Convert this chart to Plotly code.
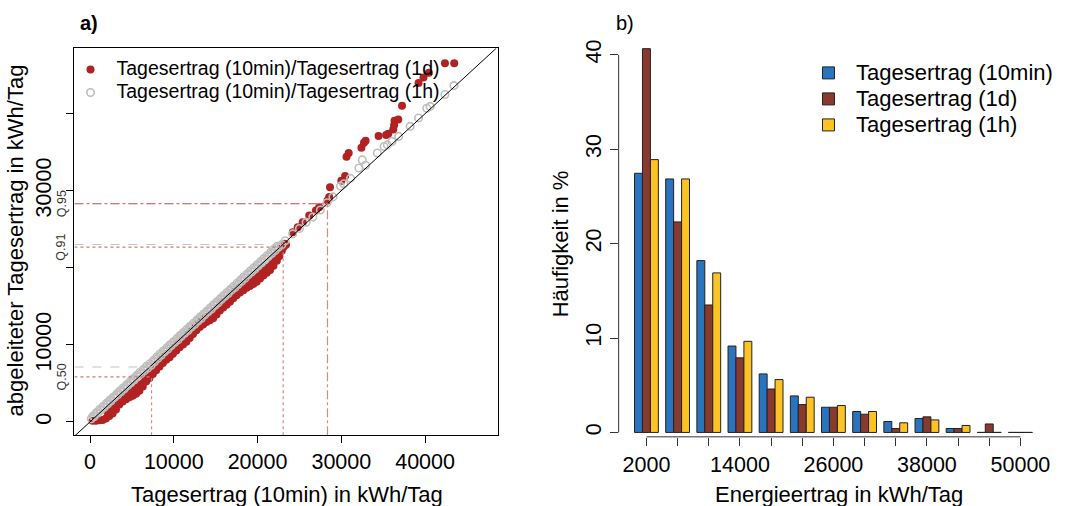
import plotly.graph_objects as go

W, H = 1072, 506
FONT = "Liberation Sans, Arial, sans-serif"

# ---------------- Panel a data (quantile pairs, kWh/Tag) ----------------
# Tagesertrag (10min) vs Tagesertrag (1d): lower edge of band, upper edge of band, sparse tail
red_x = [300, 700, 1100, 1500, 1900, 2300, 2700, 3100, 3500, 3900, 4300, 4700, 5100, 5500,
         5900, 6300, 6700, 7100, 7500, 7900, 8300, 8700, 9100, 9500, 9900, 10300, 10700,
         11100, 11500, 11900, 12300, 12700, 13100, 13500, 13900, 14300, 14700, 15100, 15500,
         15900, 16300, 16700, 17100, 17500, 17900, 18300, 18700, 19100, 19500, 19900, 20300,
         20700, 21100, 21500, 21900, 22300, 22600, 22900, 23100, 23400,
         2100, 2500, 2900, 3300, 3700, 4100, 4500, 4900, 5300, 5700, 6100, 6500, 6900, 7300,
         7700, 8100, 8500, 8900, 9300, 9700, 10100, 10500, 10900, 11300, 11700, 12100, 12500,
         12900, 13300, 13700, 14100, 14500, 14900, 15300, 15700, 16100, 16500, 16900, 17300,
         17700, 18100, 18500, 18900, 19300, 19700, 20100, 20500, 20900, 21300, 21700, 22100, 22500,
         22820, 23211, 24206, 24798, 25391, 26173, 26967, 27358, 28353, 28554, 28650,
         30000, 30450, 30620, 30880, 32400, 32700, 32900, 34450, 35350, 35600, 36200,
         36300, 36350, 36800, 37250, 39220, 39810, 40450, 42370, 43480]
red_y = [150, 150, 200, 250, 450, 750, 1100, 1600, 2250, 2650, 2950, 3200, 3400, 3650,
         4050, 4600, 5250, 5700, 6200, 6700, 7200, 7650, 8050, 8400, 8850, 9250, 9700,
         10050, 10400, 10900, 11400, 11900, 12300, 12650, 12950, 13200, 13450, 13950, 14450,
         14850, 15200, 15600, 16050, 16450, 16800, 17100, 17400, 17650, 17900, 18200, 18600,
         19000, 19350, 19700, 20250, 20900, 21500, 22200, 22700, 23000,
         1250, 1550, 2000, 2550, 3100, 3450, 3700, 3950, 4150, 4500, 4950, 5550, 6100, 6600,
         7100, 7600, 8050, 8500, 8850, 9250, 9700, 10100, 10500, 10850, 11300, 11800, 12300,
         12750, 13100, 13450, 13700, 13950, 14350, 14850, 15300, 15650, 16050, 16450, 16900,
         17250, 17600, 17900, 18150, 18450, 18700, 19050, 19450, 19800, 20150, 20600, 21200, 21900,
         22668, 23109, 24611, 25259, 25907, 26775, 27423, 27850, 28718, 29200, 30440,
         31300, 31900, 34400, 34900, 35580, 36230, 36500, 37100, 37250, 37400, 37950,
         38500, 39080, 39250, 41020, 44000, 44700, 45300, 46550, 46550]

# Tagesertrag (10min) vs Tagesertrag (1h)
grey_x = [150, 500, 900, 1300, 1700, 2100, 2500, 2900, 3300, 3700, 4100, 4500, 4900, 5300,
          5700, 6100, 6500, 6900, 7300, 7700, 8100, 8500, 8900, 9300, 9700, 10100, 10500,
          10900, 11300, 11700, 12100, 12500, 12900, 13300, 13700, 14100, 14500, 14900, 15300,
          15700, 16100, 16500, 16900, 17300, 17700, 18100, 18500, 18900, 19300, 19700, 20100,
          20500, 20900, 21300, 21700, 22100, 22500, 22900, 23300,
          350, 750, 1150, 1550, 1950, 2350, 2750, 3150, 3550, 3950, 4350, 4750, 5150, 5550,
          5950, 6350, 6750, 7150, 7550, 7950, 8350, 8750, 9150, 9550, 9950, 10350, 10750,
          11150, 11550, 11950, 12350, 12750, 13150, 13550, 13950, 14350, 14750, 15150, 15550,
          15950, 16350, 16750, 17150, 17550, 17950, 18350, 18750, 19150, 19550, 19950, 20350,
          20750, 21150, 21550, 21950, 22350,
          24200, 25000, 25800, 26600, 27500, 28300, 29000, 29900, 30300, 31100, 32100,
          32500, 32900, 34300, 35100, 35500, 36050, 36850, 38220, 39220, 40200, 40600,
          42370, 43450]
grey_y = [400, 700, 1100, 1500, 1900, 2300, 2700, 3150, 3500, 3900, 4300, 4700, 5100, 5500,
          5850, 6250, 6650, 7000, 7350, 7800, 8250, 8650, 9100, 9450, 9900, 10300, 10650,
          11100, 11500, 11850, 12300, 12650, 13100, 13450, 13900, 14300, 14650, 15100, 15450,
          15900, 16300, 16650, 17100, 17450, 17850, 18250, 18650, 19100, 19450, 19850, 20250,
          20650, 21050, 21450, 21850, 22250, 22650, 23000, 23500,
          750, 1200, 1600, 2000, 2400, 2800, 3200, 3600, 4000, 4400, 4800, 5200, 5600, 6000,
          6400, 6800, 7200, 7550, 7950, 8400, 8800, 9200, 9600, 10000, 10400, 10800, 11200,
          11600, 12000, 12400, 12800, 13200, 13600, 14000, 14400, 14800, 15200, 15600, 16000,
          16400, 16800, 17200, 17600, 18000, 18400, 18800, 19200, 19600, 20000, 20400, 20800,
          21200, 21600, 22000, 22400, 22800,
          24400, 25100, 25900, 26600, 27500, 28450, 29200, 30600, 30900, 31600, 32950,
          34000, 33300, 34900, 35750, 35950, 36400, 37050, 38350, 39450, 40700, 40950,
          42500, 43650]

q_labels = ["Q.50", "Q.91", "Q.95"]
q_x = [7346, 23060, 28350]
q_red_y = [5830, 22670, 28330]
q_grey_y = [7125, 23020, 28330]
q_red_dash = ["dot", "dot", "dashdot"]

# ---------------- Panel b data (histogram, %) ----------------
bins = [2000, 6000, 10000, 14000, 18000, 22000, 26000, 30000, 34000, 38000, 42000, 46000, 50000]
bin_labels = ["2000", "", "", "14000", "", "", "26000", "", "", "38000", "", "", "50000"]
h_10min = [27.45, 26.85, 18.2, 9.15, 6.2, 3.87, 2.67, 2.22, 1.16, 1.48, 0.42, 0, 0]
h_1d = [40.65, 22.3, 13.5, 7.9, 4.6, 2.95, 2.67, 1.93, 0.42, 1.65, 0.42, 0.9, 0]
h_1h = [28.9, 26.85, 16.9, 9.65, 5.6, 3.73, 2.85, 2.22, 1.02, 1.33, 0.74, 0, 0]
series_names = ["Tagesertrag (10min)", "Tagesertrag (1d)", "Tagesertrag (1h)"]
series_colors = ["#2a74bf", "#893a2e", "#fdc223"]

XR_A = [-1860, 48700]
YR_A = [-1723, 48500]
BARGAP = 0.236


def leg_name(txt, size):
    return "<span style='font-size:%spx'>%s</span>" % (size, txt)


fig = go.Figure()

# panel a scatter
fig.add_trace(go.Scatter(x=red_x, y=red_y, mode="markers",
                         name=leg_name("Tagesertrag (10min)/Tagesertrag (1d)", 19.5),
                         marker=dict(symbol="circle", size=8, color="#b22222", line=dict(width=0)),
                         xaxis="x", yaxis="y", legend="legend"))
fig.add_trace(go.Scatter(x=grey_x, y=grey_y, mode="markers",
                         name=leg_name("Tagesertrag (10min)/Tagesertrag (1h)", 19.5),
                         marker=dict(symbol="circle-open", size=7.5, color="#bebebe", line=dict(width=1.6)),
                         xaxis="x", yaxis="y", legend="legend"))

# panel b bars
for vals, nm, col in zip([h_10min, h_1d, h_1h], series_names, series_colors):
    fig.add_trace(go.Bar(x=bins, y=vals, name=leg_name(nm, 22),
                         marker=dict(color=col, line=dict(color="#222222", width=1)),
                         xaxis="x2", yaxis="y2", legend="legend2"))

shapes = []
# diagonal
shapes.append(dict(type="line", xref="x", yref="y", x0=XR_A[0], y0=XR_A[0], x1=YR_A[1], y1=YR_A[1],
                   line=dict(color="black", width=1), layer="above"))
# quantile lines
for qx, ry, gy, dsh in zip(q_x, q_red_y, q_grey_y, q_red_dash):
    shapes.append(dict(type="line", xref="x", yref="y", x0=XR_A[0], x1=qx, y0=gy, y1=gy,
                       line=dict(color="#c4c4c4", width=1.2, dash="dash"), layer="above"))
    shapes.append(dict(type="line", xref="x", yref="y", x0=XR_A[0], x1=qx, y0=ry, y1=ry,
                       line=dict(color="#cf7a7a", width=1.2, dash=dsh), layer="above"))
    shapes.append(dict(type="line", xref="x", yref="y", x0=qx, x1=qx, y0=YR_A[0], y1=ry,
                       line=dict(color="#cf8a8a", width=1.2, dash=dsh), layer="above"))
# panel b axis lines (R style, only spanning ticks)
shapes.append(dict(type="line", xref="x2 domain", yref="y2", x0=0, x1=0, y0=0, y1=40,
                   line=dict(color="#333333", width=1)))
shapes.append(dict(type="line", xref="x2", yref="y2 domain", x0=bins[0], x1=bins[-1], y0=0, y1=0,
                   line=dict(color="#333333", width=1)))
# zero-height bars drawn as flat lines
step = bins[1] - bins[0]
gw = step * (1 - BARGAP)
bw = gw / 3
for i, vals in enumerate([h_10min, h_1d, h_1h]):
    for b, v in zip(bins, vals):
        if v == 0:
            x0 = b - gw / 2 + i * bw
            shapes.append(dict(type="line", xref="x2", yref="y2", x0=x0, x1=x0 + bw, y0=0, y1=0,
                               line=dict(color="#222222", width=1)))


def px(xp):
    return xp / W


def py(yp):
    return 1 - yp / H


annotations = [
    dict(text="<b>a)</b>", x=px(90), y=py(22), font=dict(size=20)),
    dict(text="b)", x=px(630), y=py(22), font=dict(size=20)),
    dict(text="Tagesertrag (10min) in kWh/Tag", x=px(289), y=py(494), font=dict(size=22)),
    dict(text="abgeleiteter Tagesertrag in kWh/Tag", x=px(16), y=py(240), textangle=-90, font=dict(size=22)),
    dict(text="Energieertrag in kWh/Tag", x=px(845), y=py(494), font=dict(size=22)),
    dict(text="Häufigkeit in %", x=px(565), y=py(243), textangle=-90, font=dict(size=22)),
]
for ann in annotations:
    ann.update(xref="paper", yref="paper", showarrow=False, xanchor="center", yanchor="middle")
for lab, ry in zip(q_labels, q_red_y):
    annotations.append(dict(text=lab, xref="paper", yref="y", x=px(62), y=ry, textangle=-90,
                            showarrow=False, xanchor="center", yanchor="middle",
                            font=dict(size=12.5, color="#333333")))

fig.update_layout(
    width=W, height=H,
    margin=dict(l=0, r=0, t=0, b=0),
    paper_bgcolor="white", plot_bgcolor="white",
    font=dict(family=FONT, color="black", size=18),
    barmode="group", bargap=BARGAP, bargroupgap=0,
    shapes=shapes, annotations=annotations,
    xaxis=dict(domain=[px(75), px(501.7)], range=XR_A, anchor="y",
               tickvals=[0, 10000, 20000, 30000, 40000], ticktext=["0", "10000", "20000", "30000", "40000"],
               ticks="outside", ticklen=7, tickcolor="black", showline=True, mirror=True,
               linecolor="black", linewidth=1, showgrid=False, zeroline=False,
               tickfont=dict(size=21.5), ticklabelstandoff=0),
    yaxis=dict(domain=[py(435), py(47.3)], range=YR_A, anchor="x",
               tickvals=[0, 10000, 20000, 30000, 40000], ticktext=["0", "10000", "", "30000", ""],
               tickangle=-90, ticks="outside", ticklen=7, tickcolor="black", showline=True, mirror=True,
               linecolor="black", linewidth=1, showgrid=False, zeroline=False,
               tickfont=dict(size=21.5), ticklabelstandoff=7),
    xaxis2=dict(domain=[px(623.3), px(1050)], range=[-1567, 52790], anchor="y2",
                tickvals=bins, ticktext=bin_labels, ticks="outside", ticklen=8, tickcolor="#333333",
                showline=False, showgrid=False, zeroline=False, tickfont=dict(size=21.5), ticklabelstandoff=0),
    yaxis2=dict(domain=[py(436.7), py(40)], range=[-0.465, 41.47], anchor="x2",
                tickvals=[0, 10, 20, 30, 40], tickangle=-90, ticks="outside", ticklen=8, tickcolor="#333333",
                showline=False, showgrid=False, zeroline=False, tickfont=dict(size=21.5), ticklabelstandoff=0),
    legend=dict(x=px(65), y=py(52), xanchor="left", yanchor="top", bgcolor="rgba(0,0,0,0)",
                font=dict(size=15.4), tracegroupgap=0, itemwidth=42),
    legend2=dict(x=px(807), y=py(54), xanchor="left", yanchor="top", bgcolor="rgba(0,0,0,0)",
                 font=dict(size=17.7), tracegroupgap=0, itemwidth=45),
    showlegend=True,
)

fig.write_html("out.html", config={"displayModeBar": False},
               post_script="document.body.style.margin='0';document.body.style.overflow='hidden';")
